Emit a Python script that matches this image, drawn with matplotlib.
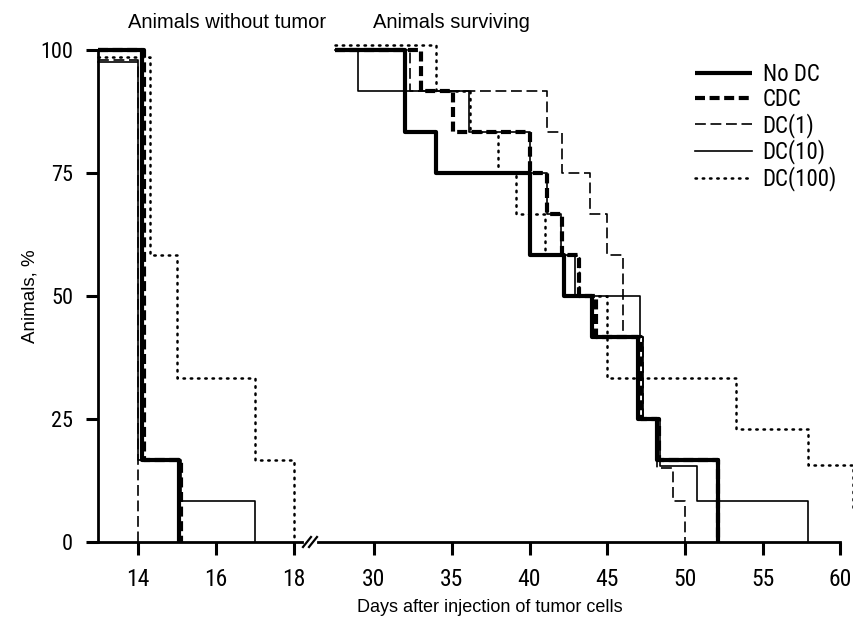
import matplotlib
matplotlib.use("Agg")
import matplotlib.pyplot as plt
from matplotlib import font_manager as fm
from matplotlib.lines import Line2D

def find_narrow():
    cands = []
    for f in fm.fontManager.ttflist:
        nm = (f.name + " " + f.fname).lower()
        st = str(f.stretch).lower()
        if ('narrow' in nm or 'condensed' in nm or 'condensed' in st) and f.weight in (400, 'normal', 'regular') and f.style == 'normal':
            cands.append(f)
    pref = ['liberation sans narrow', 'roboto condensed', 'open sans condensed', 'dejavu sans condensed', 'noto sans']
    for p in pref:
        for f in cands:
            if p in (f.name + " " + f.fname).lower().replace('-', ' '):
                return f.fname
    for f in cands:
        if 'mono' not in f.name.lower() and 'serif' not in f.name.lower():
            return f.fname
    return None

NARROW_FILE = find_narrow()
names = {f.name for f in fm.fontManager.ttflist}
SANS = 'Liberation Sans' if 'Liberation Sans' in names else 'DejaVu Sans'

def nprop(size):
    if NARROW_FILE:
        return fm.FontProperties(fname=NARROW_FILE, size=size)
    return fm.FontProperties(family='DejaVu Sans', size=size)

# ---------------- data ----------------
series_names = ["No DC", "CDC", "DC(1)", "DC(10)", "DC(100)"]

# Animals without tumor (left panel): days, percent
tumor_nodc_x = [12.97, 14.1, 15.05]
tumor_nodc_y = [100, 16.7, 0]
tumor_cdc_x = [12.97, 14.15, 15.1]
tumor_cdc_y = [100, 16.7, 0]
tumor_dc1_x = [12.97, 14.0]
tumor_dc1_y = [98, 0]
tumor_dc10_x = [12.97, 14.0, 15.1, 17.0]
tumor_dc10_y = [97.5, 16.7, 8.3, 0]
tumor_dc100_x = [12.97, 14.3, 15.0, 17.0, 18.0]
tumor_dc100_y = [98.5, 58.3, 33.3, 16.7, 0]

# Animals surviving (right panel): days, percent
surv_nodc_x = [27.5, 32.0, 34.0, 40.0, 42.2, 44.0, 47.0, 48.2, 52.1]
surv_nodc_y = [100, 83.3, 75, 58.3, 50, 41.7, 25, 16.7, 0]
surv_cdc_x = [27.5, 33.0, 35.1, 40.0, 41.1, 42.1, 43.2, 44.3, 47.2, 48.3, 52.1]
surv_cdc_y = [100, 91.7, 83.3, 75, 66.7, 58.3, 50, 41.7, 25, 16.7, 0]
surv_dc1_x = [27.5, 32.3, 41.1, 42.1, 43.9, 45.0, 46.0, 47.3, 48.2, 49.2, 50.0]
surv_dc1_y = [100, 91.7, 83.3, 75, 66.7, 58.3, 41.7, 25, 15, 8.3, 0]
surv_dc10_x = [27.5, 29.0, 36.1, 40.0, 41.1, 42.0, 42.9, 47.1, 47.3, 48.4, 50.8, 57.9]
surv_dc10_y = [100, 91.7, 83.3, 75, 66.7, 58.3, 50, 41.7, 25, 15.5, 8.3, 0]
surv_dc100_x = [27.5, 34.0, 36.2, 38.0, 39.1, 41.0, 43.2, 45.0, 53.3, 57.9, 60.8]
surv_dc100_y = [101, 91.7, 83.3, 75, 66.7, 58.3, 50, 33.3, 22.9, 15.6, 6.0]

left_ticks = [14, 16, 18]
right_ticks = [30, 35, 40, 45, 50, 55, 60]
y_ticks = [0, 25, 50, 75, 100]

# ---------------- styles ----------------
styles = {
    "No DC": dict(color='black', lw=3.0, ls='-', solid_capstyle='butt'),
    "CDC": dict(color='black', lw=3.0, ls=(0, (2.4, 1.1)), dash_capstyle='butt'),
    "DC(1)": dict(color='black', lw=1.2, ls=(0, (6.5, 2.8))),
    "DC(10)": dict(color='black', lw=1.2, ls='-'),
    "DC(100)": dict(color='black', lw=1.8, ls=(0, (0.6, 2.3)), dash_capstyle='round'),
}

W, H = 854, 629
fig = plt.figure(figsize=(W / 100, H / 100), dpi=100)

def fx(px):
    return px / W

def fy(py):
    return 1 - py / H

y0_px, y100_px = 542, 50
axL = fig.add_axes([fx(98), fy(y0_px), fx(302) - fx(98), (y0_px - y100_px) / H])
axR = fig.add_axes([fx(318), fy(y0_px), fx(854) - fx(318), (y0_px - y100_px) / H])

left_data = [(tumor_nodc_x, tumor_nodc_y), (tumor_cdc_x, tumor_cdc_y),
             (tumor_dc1_x, tumor_dc1_y), (tumor_dc10_x, tumor_dc10_y),
             (tumor_dc100_x, tumor_dc100_y)]
right_data = [(surv_nodc_x, surv_nodc_y), (surv_cdc_x, surv_cdc_y),
              (surv_dc1_x, surv_dc1_y), (surv_dc10_x, surv_dc10_y),
              (surv_dc100_x, surv_dc100_y)]

order = [3, 2, 4, 0, 1]
for i in order:
    nm = series_names[i]
    x, y = left_data[i]
    axL.step(x, y, where='post', clip_on=False, zorder=3, **styles[nm])
    x, y = right_data[i]
    axR.step(x, y, where='post', clip_on=False, zorder=3, **styles[nm])

axL.set_xlim(12.97, 12.97 + (302 - 98) / 39.0)
axR.set_xlim(30 - 56 / 15.55, 30 + (854 - 374) / 15.55)
for ax in (axL, axR):
    ax.set_ylim(0, 100)
    ax.spines['top'].set_visible(False)
    ax.spines['right'].set_visible(False)
    ax.spines['bottom'].set_linewidth(2.0)
    ax.tick_params(axis='x', direction='out', length=9, width=2.2, pad=10)
    ax.patch.set_alpha(0)

axL.set_xticks(left_ticks)
axR.set_xticks(right_ticks)
axL.set_xticklabels([str(t) for t in left_ticks], fontproperties=nprop(17))
axR.set_xticklabels([str(t) for t in right_ticks], fontproperties=nprop(17))

axL.spines['left'].set_linewidth(2.0)
axL.set_yticks(y_ticks)
axL.set_yticklabels([str(t) for t in y_ticks], fontproperties=nprop(16))
axL.tick_params(axis='y', direction='out', length=9, width=2.2, pad=9)

axR.spines['left'].set_visible(False)
axR.set_yticks([])
axR.spines['bottom'].set_bounds(30 - 56 / 15.55, 60)

# axis break marks
for dx in (0, 6):
    fig.add_artist(Line2D([fx(303 + dx), fx(311 + dx)], [fy(547), fy(537)],
                          transform=fig.transFigure, color='black', lw=1.6))

# titles and labels
fig.text(fx(227), fy(22), "Animals without tumor", ha='center', va='center',
         fontsize=14.5, fontfamily=SANS)
fig.text(fx(451), fy(22), "Animals surviving", ha='center', va='center',
         fontsize=14.5, fontfamily=SANS)
fig.text(fx(490), fy(607), "Days after injection of tumor cells", ha='center',
         va='center', fontsize=13, fontfamily=SANS)
fig.text(fx(30), fy(296), "Animals, %", ha='center', va='center', rotation=90,
         fontsize=13.5, fontfamily=SANS)

# legend
handles = [Line2D([0], [0], **styles[nm]) for nm in series_names]
leg = fig.legend(handles, series_names, loc='upper left',
                 bbox_to_anchor=(fx(695), fy(63)), frameon=False,
                 prop=nprop(16.5), handlelength=2.5,
                 handletextpad=0.45, labelspacing=0.08, borderpad=0,
                 borderaxespad=0)

fig.savefig("out.png", dpi=100)
